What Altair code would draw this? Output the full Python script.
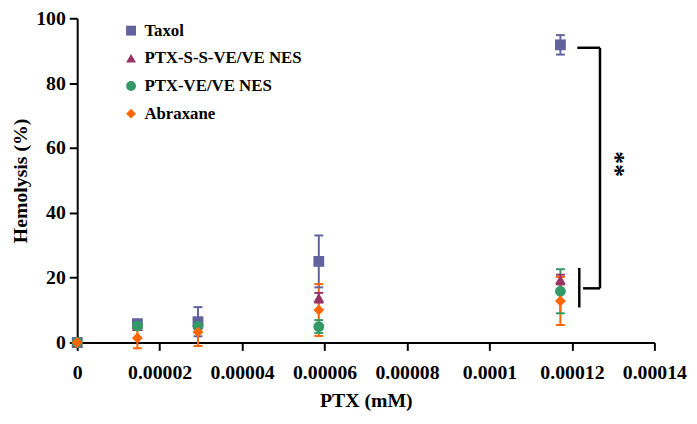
import altair as alt
import pandas as pd

series = ["Taxol", "PTX-S-S-VE/VE NES", "PTX-VE/VE NES", "Abraxane"]
colors = ["#62629F", "#993366", "#339966", "#FF6600"]
shapes = ["square", "triangle-up", "circle", "diamond"]

doses = [0, 1.46e-5, 2.93e-5, 5.86e-5, 1.172e-4]
taxol = [0, 5.8, 6.4, 25.0, 91.8]
taxol_err = [0, 0.6, 4.5, 8.0, 3.0]
ptxss = [0, 5.0, 5.5, 13.8, 19.4]
ptxss_err = [0, 0.6, 1.0, 1.5, 1.5]
ptxve = [0, 5.1, 5.0, 4.9, 15.8]
ptxve_err = [0, 0.6, 0.6, 2.0, 6.8]
abrax = [0, 1.4, 3.2, 10.0, 12.8]
abrax_err = [0, 3.2, 4.3, 8.0, 7.4]

# significance bracket (data units)
br_top_x = [1.213e-4, 1.268e-4]
br_top_y = 90.9
br_vert_x = 1.268e-4
br_vert_y = [16.7, 90.9]
br_low_x = [1.227e-4, 1.268e-4]
br_low_y = 16.7
br_short_x = 1.2178e-4
br_short_y = [10.8, 23.0]
star_x = 1.303e-4
star_y = 55.0

rows = []
for name, vals, errs in zip(series, [taxol, ptxss, ptxve, abrax],
                            [taxol_err, ptxss_err, ptxve_err, abrax_err]):
    for d, v, e in zip(doses, vals, errs):
        rows.append({"series": name, "dose": d, "value": v,
                     "lo": v - e, "hi": v + e, "err": e})
df = pd.DataFrame(rows)
df["order"] = df["series"].map({s: i for i, s in enumerate(series)})

FONT = "Liberation Serif"

xscale = alt.Scale(domain=[0, 0.00014], nice=False)
yscale = alt.Scale(domain=[0, 100], nice=False)
legend = alt.Legend(title=None, orient="none", legendX=46, legendY=4,
                    labelFont=FONT, labelFontSize=17, labelFontWeight="bold",
                    labelColor="black", symbolSize=100, rowPadding=10,
                    labelOffset=5, symbolStrokeWidth=0, padding=0, symbolOpacity=1)
color = alt.Color("series:N", scale=alt.Scale(domain=series, range=colors), legend=legend)
shape = alt.Shape("series:N", scale=alt.Scale(domain=series, range=shapes), legend=legend)

base = alt.Chart(df)

errdf = base.transform_filter("datum.err > 0")
err_rule = errdf.mark_rule(strokeWidth=2, opacity=1).encode(
    x=alt.X("dose:Q", scale=xscale,
            axis=alt.Axis(values=[0, 0.00002, 0.00004, 0.00006, 0.00008, 0.0001, 0.00012, 0.00014],
                          labelExpr="datum.value == 0 ? '0' : format(datum.value, '.5~f')",
                          labelOverlap=False, labelFlush=False,
                          title="PTX (mM)", grid=False, domainColor="black", domainWidth=2,
                          tickColor="black", tickWidth=2, tickSize=8, labelPadding=12,
                          labelFont=FONT, labelFontSize=20, labelFontWeight="bold",
                          labelColor="black", titleFont=FONT, titleFontSize=20,
                          titleFontWeight="bold", titleColor="black", titlePadding=9)),
    y=alt.Y("lo:Q", scale=yscale,
            axis=alt.Axis(values=[0, 20, 40, 60, 80, 100], title="Hemolysis (%)", grid=False,
                          labelOverlap=False, labelFlush=False,
                          domainColor="black", domainWidth=2, tickColor="black", tickWidth=2,
                          tickSize=8, labelPadding=4, labelFont=FONT, labelFontSize=20,
                          labelFontWeight="bold", labelColor="black", titleFont=FONT,
                          titleFontSize=20, titleFontWeight="bold", titleColor="black",
                          titlePadding=5)),
    y2="hi:Q",
    color=color,
)
cap_lo = errdf.mark_tick(thickness=2, size=9, orient="horizontal", opacity=1).encode(
    x=alt.X("dose:Q", scale=xscale), y=alt.Y("lo:Q", scale=yscale), color=color)
cap_hi = errdf.mark_tick(thickness=2, size=9, orient="horizontal", opacity=1).encode(
    x=alt.X("dose:Q", scale=xscale), y=alt.Y("hi:Q", scale=yscale), color=color)

points = base.mark_point(filled=True, opacity=1, fillOpacity=1, size=120, strokeWidth=0).encode(
    x=alt.X("dose:Q", scale=xscale), y=alt.Y("value:Q", scale=yscale),
    color=color, shape=shape, order=alt.Order("order:Q"))

bdf = pd.DataFrame([
    {"x": br_top_x[0], "x2": br_top_x[1], "y": br_top_y, "y2": br_top_y},
    {"x": br_vert_x, "x2": br_vert_x, "y": br_vert_y[0], "y2": br_vert_y[1]},
    {"x": br_low_x[0], "x2": br_low_x[1], "y": br_low_y, "y2": br_low_y},
    {"x": br_short_x, "x2": br_short_x, "y": br_short_y[0], "y2": br_short_y[1]},
])
bracket = alt.Chart(bdf).mark_rule(color="black", strokeWidth=2.5).encode(
    x=alt.X("x:Q", scale=xscale), x2="x2:Q",
    y=alt.Y("y:Q", scale=yscale), y2="y2:Q")

star = alt.Chart(pd.DataFrame({"x": [star_x], "y": [star_y], "t": ["**"]})).mark_text(
    font=FONT, fontSize=26, fontWeight="bold", angle=90, color="black",
    align="center", baseline="middle").encode(
    x=alt.X("x:Q", scale=xscale), y=alt.Y("y:Q", scale=yscale), text="t:N")

chart = alt.layer(err_rule, cap_lo, cap_hi, points, bracket, star).properties(
    width=584, height=328,
    autosize=alt.AutoSizeParams(type="none"),
    padding={"left": 70, "top": 8, "right": 35, "bottom": 72},
).configure_view(stroke=None)

chart.save("out.html", embed_options={"renderer": "svg", "actions": False})
